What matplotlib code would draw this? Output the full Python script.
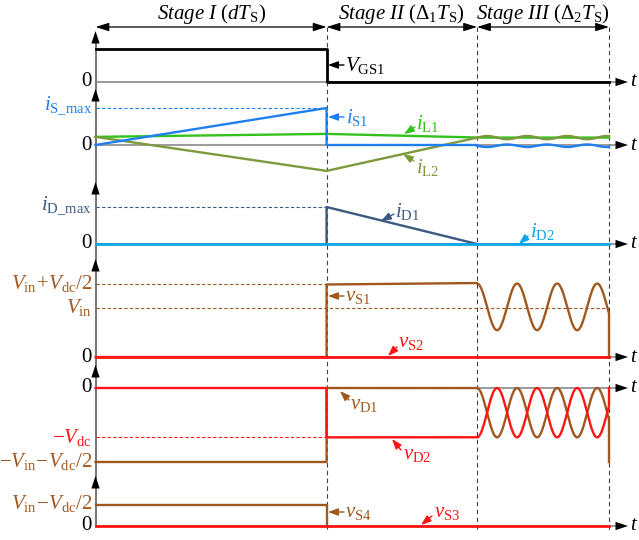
import numpy as np
import matplotlib
matplotlib.use("Agg")
import matplotlib.pyplot as plt

plt.rcParams['font.family'] = 'Liberation Serif'
plt.rcParams['mathtext.fontset'] = 'custom'
plt.rcParams['mathtext.rm'] = 'Liberation Serif'
plt.rcParams['mathtext.it'] = 'Liberation Serif:italic'
plt.rcParams['mathtext.bf'] = 'Liberation Serif:bold'

W, H = 639, 540
X0, X3 = 95.5, 609.0          # pixel span of one switching period

# stage lengths, fractions of Ts
d, delta1, delta2 = 0.45, 0.293, 0.257
t1 = d
t2 = d + delta1
stage_t = [0, t1, t2, 1.0]
ring_period = 0.078

stage_labels = [r'$\mathit{Stage\ I}\ (dT_{\mathrm{S}})$',
                r'$\mathit{Stage\ II}\ (\Delta_1T_{\mathrm{S}})$',
                r'$\mathit{Stage\ III}\ (\Delta_2T_{\mathrm{S}})$']

# waveforms (normalised units)
vgs_t, vgs_v = [0, t1, t1, 1.0], [1, 1, 0, 0]

is1_t, is1_v = [0, t1, t1, t2], [0, 1.0, 0, 0]
il1_t, il1_v = [0, t1, t2], [0.22, 0.30, 0.20]
il2_t, il2_v = [0, t1, t2], [0.22, -0.70, 0.20]
# stage III ringing: (centre, amplitude)
is1_ring = (-0.02, -0.035)
il1_ring = (0.20, 0.0)
il2_ring = (0.20, 0.045)

id1_t, id1_v = [t1, t1, t2], [0, 1.0, 0]
id2_t, id2_v = [0, 1.0], [0, 0]

vs1_t, vs1_v = [0, t1, t1, t2], [0, 0, 1.49, 1.52]
vs1_ring = (1.03, 0.48)
vs2_t, vs2_v = [0, 1.0], [0, 0]

vd1_t, vd1_v = [0, t1, t1, t2], [-1.5, -1.5, 0, 0]
vd1_ring = (-0.5, 0.5)
vd2_t, vd2_v = [0, t1, t1, t2], [0, 0, -1.0, -1.0]
vd2_ring = (-0.5, -0.5)

vs4_t, vs4_v = [0, t1, t1], [0.5, 0.5, 0]
vs3_t, vs3_v = [0, 1.0], [0, 0]

blue = '#1f7ff0'
green = '#33c21c'
olive = '#7c9a3c'
slate = '#3b5a82'
lblue = '#0aa6e6'
brown = '#a0581e'
red = '#ff1414'
gray = '#808080'

tr = np.linspace(t2, 1.0, 300)
ph = 2 * np.pi * (tr - t2) / ring_period


def ring_sin(c):
    return c[0] + c[1] * np.sin(ph)


def ring_cos(c):
    return c[0] + c[1] * np.cos(ph)


fig = plt.figure(figsize=(W / 100, H / 100), dpi=100)
ov = fig.add_axes([0, 0, 1, 1])
ov.set_xlim(0, W); ov.set_ylim(H, 0); ov.axis('off')


def px(t):
    return X0 + t * (X3 - X0)


def panel(zero_px, ref_px, ref_val):
    top, bot = min(zero_px, ref_px), max(zero_px, ref_px)
    ax = fig.add_axes([X0 / W, 1 - bot / H, (X3 - X0) / W, (bot - top) / H])
    ax.set_xlim(0, 1)
    ax.set_ylim(min(0, ref_val), max(0, ref_val))
    ax.axis('off')
    return ax


zeros = [82, 145, 244, 357, 388, 526]
tops = [31, 89, 182, 259, 365, 476]

# axes: vertical line + arrowheads, t axes
ov.plot([X0, X0], [zeros[-1], tops[0] + 6], color='#505050', lw=1.1, zorder=1)
for tp in tops:
    ov.annotate('', xy=(X0, tp), xytext=(X0, tp + 12),
                arrowprops=dict(arrowstyle='-|>,head_length=0.9,head_width=0.3',
                                color='black', lw=0, shrinkA=0, shrinkB=0))
for z in zeros:
    ov.plot([X0, 616], [z, z], color=gray, lw=1.1, zorder=1)
    ov.annotate('', xy=(628, z), xytext=(614, z),
                arrowprops=dict(arrowstyle='-|>,head_length=0.9,head_width=0.3',
                                color='black', lw=0, shrinkA=0, shrinkB=0))
    ov.text(630, z, r'$t$', fontsize=15, ha='left', va='center')
    ov.text(92, z, '0', fontsize=15, ha='right', va='center')

# stage boundaries and dimension arrows
for tb in stage_t[1:]:
    ov.plot([px(tb), px(tb)], [27, 530], color='#404040', lw=0.8, ls=(0, (4, 3)), zorder=0)
for i in range(3):
    ov.annotate('', xy=(px(stage_t[i + 1]), 27), xytext=(px(stage_t[i]), 27),
                arrowprops=dict(arrowstyle='<|-|>,head_length=0.8,head_width=0.25',
                                color='black', lw=0.9, shrinkA=0, shrinkB=0))
    ov.text((px(stage_t[i]) + px(stage_t[i + 1])) / 2, 14, stage_labels[i],
            fontsize=15, ha='center', va='center')

lw = 1.7
# panel 1: VGS1
ax = panel(82, 49, 1)
ax.plot(vgs_t, vgs_v, color='black', lw=2, clip_on=False)

# panel 2: switch and inductor currents
ax = panel(145, 108, 1)
ax.plot([0, t1], [1, 1], color=blue, lw=0.8, ls=(0, (3, 2)), clip_on=False)
ax.plot(il1_t + list(tr), il1_v + list(ring_sin(il1_ring)), color=green, lw=lw, clip_on=False)
ax.plot(il2_t + list(tr), il2_v + list(ring_sin(il2_ring)), color=olive, lw=lw, clip_on=False)
ax.plot(is1_t + list(tr), is1_v + list(ring_sin(is1_ring)), color=blue, lw=lw, clip_on=False)

# panel 3: diode currents
ax = panel(244, 207, 1)
ax.plot([0, t1], [1, 1], color=slate, lw=0.8, ls=(0, (3, 2)), clip_on=False)
ax.plot(id1_t, id1_v, color=slate, lw=lw, clip_on=False)
ax.plot(id2_t, id2_v, color=lblue, lw=2, clip_on=False)

# panel 4: switch voltages
ax = panel(357, 284, 1.5)
ax.plot([0, t1], [1.5, 1.5], color=brown, lw=0.8, ls=(0, (3, 2)), clip_on=False)
ax.plot([0, 1.0], [1.0, 1.0], color=brown, lw=0.8, ls=(0, (3, 2)), clip_on=False)
ax.plot(vs1_t + list(tr) + [1.0], vs1_v + list(ring_cos(vs1_ring)) + [0],
        color=brown, lw=lw, clip_on=False)
ax.plot(vs2_t, vs2_v, color=red, lw=2, clip_on=False)

# panel 5: diode voltages
ax = panel(388, 462, -1.5)
ax.plot([0, t1], [-1, -1], color=red, lw=0.8, ls=(0, (3, 2)), clip_on=False)
ax.plot(vd1_t + list(tr) + [1.0], vd1_v + list(ring_cos(vd1_ring)) + [-1.5],
        color=brown, lw=lw, clip_on=False)
ax.plot(vd2_t + list(tr) + [1.0], vd2_v + list(ring_cos(vd2_ring)) + [0],
        color=red, lw=lw, clip_on=False)

# panel 6: S3 / S4 voltages
ax = panel(526, 505, 0.5)
ax.plot(vs4_t, vs4_v, color=brown, lw=lw, clip_on=False)
ax.plot(vs3_t, vs3_v, color=red, lw=2, clip_on=False)

# left level labels
levels = [
    (r'$i_{\mathrm{S\_max}}$', blue, 106),
    (r'$i_{\mathrm{D\_max}}$', slate, 206),
    (r'$V_{\mathrm{in}}\!+\!V_{\mathrm{dc}}/2$', brown, 283),
    (r'$V_{\mathrm{in}}$', brown, 308),
    (r'$-V_{\mathrm{dc}}$', red, 437),
    (r'$-V_{\mathrm{in}}\!-\!V_{\mathrm{dc}}/2$', brown, 462),
    (r'$V_{\mathrm{in}}\!-\!V_{\mathrm{dc}}/2$', brown, 504),
]
for s, c, y in levels:
    ov.text(92, y, s, color=c, fontsize=15, ha='right', va='center')

# curve labels: text, colour, text pos, arrow tail, arrow head
labels = [
    (r'$V_{\mathrm{GS1}}$', 'black', (345, 66), (344, 65), (328, 65)),
    (r'$i_{\mathrm{S1}}$', blue, (346, 117), (344, 117), (328, 117)),
    (r'$i_{\mathrm{L1}}$', green, (416, 123), (415, 127), (404, 134)),
    (r'$i_{\mathrm{L2}}$', olive, (416, 167), (414, 161), (403, 154)),
    (r'$i_{\mathrm{D1}}$', slate, (395, 211), (394, 214), (381, 221)),
    (r'$i_{\mathrm{D2}}$', lblue, (530, 232), (528, 236), (519, 244)),
    (r'$v_{\mathrm{S1}}$', brown, (345, 297), (344, 296), (328, 296)),
    (r'$v_{\mathrm{S2}}$', red, (398, 343), (397, 347), (388, 356)),
    (r'$v_{\mathrm{D1}}$', brown, (350, 405), (349, 400), (340, 391)),
    (r'$v_{\mathrm{D2}}$', red, (403, 455), (401, 450), (392, 439)),
    (r'$v_{\mathrm{S4}}$', brown, (345, 513), (344, 512), (328, 512)),
    (r'$v_{\mathrm{S3}}$', red, (434, 512), (432, 516), (421, 525)),
]
for s, c, tp, tail, head in labels:
    ov.text(tp[0], tp[1], s, color=c, fontsize=15, ha='left', va='center')
    ov.annotate('', xy=head, xytext=tail,
                arrowprops=dict(arrowstyle='-|>,head_length=0.6,head_width=0.22',
                                color=c, lw=1, shrinkA=0, shrinkB=0))

fig.savefig('out.png', dpi=100)
